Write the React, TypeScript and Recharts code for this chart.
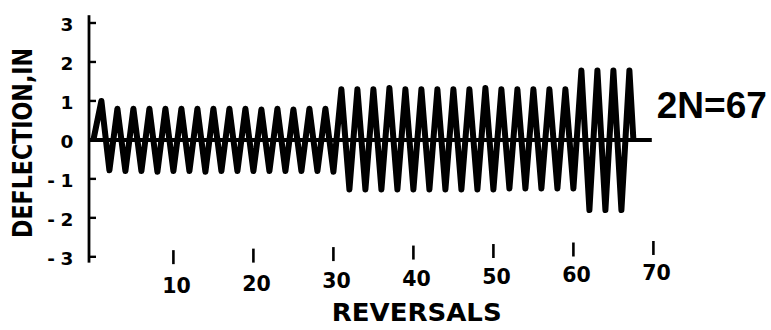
import React from "react";
import { LineChart, Line, XAxis, YAxis, ReferenceLine } from "recharts";

// Deflection (in) at each load reversal, read peak by peak.
// Reversals 1-30: ~0.8 in cycles
const stage1 = [
  1.0, -0.78, 0.8, -0.8, 0.8, -0.8, 0.8, -0.82, 0.8, -0.8,
  0.8, -0.8, 0.8, -0.82, 0.8, -0.8, 0.8, -0.8, 0.8, -0.8,
  0.78, -0.8, 0.8, -0.8, 0.78, -0.8, 0.8, -0.8, 0.8, -0.82,
];
// Reversals 31-60: ~1.3 in cycles
const stage2 = [
  1.3, -1.27, 1.3, -1.27, 1.3, -1.27, 1.33, -1.27, 1.3, -1.27,
  1.3, -1.27, 1.3, -1.27, 1.3, -1.27, 1.3, -1.27, 1.33, -1.27,
  1.3, -1.25, 1.3, -1.25, 1.3, -1.25, 1.3, -1.25, 1.3, -1.25,
];
// Reversals 61-67: ~1.8 in cycles up to failure
const stage3 = [1.78, -1.8, 1.78, -1.8, 1.78, -1.8, 1.78];

const reversalTicks = [10, 20, 30, 40, 50, 60, 70];
const deflectionTicks = [-3, -2, -1, 0, 1, 2, 3];
const failureReversal = 67;
const failureLabel = "2N=67";
const zeroLineEnd = 69.8;

const deflection = [...stage1, ...stage2, ...stage3];
const series = [
  { rev: 0, d: 0 },
  ...deflection.map((d, i) => ({ rev: i + 1, d })),
  { rev: failureReversal + 0.5, d: 0 },
];

const INK = "#000";
const SANS = "DejaVu Sans, sans-serif";

// inward tick marks with the digit centred and the minus hanging left
const YTick = (props: any) => {
  const { x, y, payload } = props;
  const v = payload.value as number;
  return (
    <g>
      <line x1={x} x2={x + 7} y1={y} y2={y} stroke={INK} strokeWidth={2.4} />
      <text x={x - 22} y={y + 2} textAnchor="middle" dominantBaseline="central"
        fontFamily={SANS} fontWeight="bold" fontSize={18.5} fill={INK}>
        {Math.abs(v)}
      </text>
      {v < 0 && (
        <text x={x - 38} y={y + 2} textAnchor="middle" dominantBaseline="central"
          fontFamily={SANS} fontWeight="bold" fontSize={18.5} fill={INK}>
          -
        </text>
      )}
    </g>
  );
};

// floating tick marks above hand-lettered labels that drift upward to the right
const XTick = (props: any) => {
  const { x, y, payload } = props;
  const v = payload.value as number;
  const markMid = y - 5.5 - (v - 10) * 0.153;
  const labelMid = y + 23 - (v - 10) * 0.21;
  return (
    <g>
      <line x1={x} x2={x} y1={markMid - 7} y2={markMid + 7} stroke={INK} strokeWidth={2.6} />
      <text x={x + 3} y={labelMid} textAnchor="middle" dominantBaseline="central"
        fontFamily={SANS} fontWeight="bold" fontSize={20.5} fill={INK}>
        {v}
      </text>
    </g>
  );
};

export default function App() {
  return (
    <div style={{ position: "absolute", left: 0, top: 0, background: "#fff" }}>
      <LineChart
        width={771}
        height={330}
        data={series}
        margin={{ top: 15.2, right: 37.6, bottom: 7.35, left: 0 }}
      >
        <XAxis
          dataKey="rev"
          type="number"
          domain={[-0.55, 80]}
          ticks={reversalTicks}
          axisLine={false}
          tickLine={false}
          tickSize={0}
          tickMargin={0}
          height={60}
          tick={<XTick />}
          label={{
            content: (p: any) => (
              <text
                x={p.viewBox.x + 327.7}
                y={p.viewBox.y + 50}
                textAnchor="middle"
                dominantBaseline="central"
                fontFamily={SANS}
                fontWeight="bold"
                fontSize={25}
                textLength={170}
                lengthAdjust="spacingAndGlyphs"
                fill={INK}
              >
                REVERSALS
              </text>
            ),
          }}
        />
        <YAxis
          type="number"
          domain={[-3.15, 3.2]}
          ticks={deflectionTicks}
          width={89}
          axisLine={{ stroke: INK, strokeWidth: 2.8 }}
          tickLine={false}
          tickSize={0}
          tickMargin={0}
          tick={<YTick />}
          label={{
            content: (p: any) => {
              const cx = p.viewBox.x + 23;
              const cy = p.viewBox.y + p.viewBox.height / 2 + 4;
              return (
                <text
                  x={cx}
                  y={cy}
                  transform={`rotate(-90, ${cx}, ${cy})`}
                  textAnchor="middle"
                  dominantBaseline="central"
                  fontFamily={SANS}
                  fontWeight="bold"
                  fontSize={27}
                  textLength={190}
                  lengthAdjust="spacingAndGlyphs"
                  fill={INK}
                >
                  DEFLECTION,IN
                </text>
              );
            },
          }}
        />
        <ReferenceLine
          segment={[
            { x: -0.55, y: 0 },
            { x: zeroLineEnd, y: 0 },
          ]}
          stroke={INK}
          strokeWidth={4}
          label={{
            content: (p: any) => (
              <text
                x={p.viewBox.x + p.viewBox.width + 5}
                y={p.viewBox.y - 34}
                textAnchor="start"
                dominantBaseline="central"
                fontFamily="Liberation Sans, Arial, sans-serif"
                fontWeight="bold"
                fontSize={37}
                fill={INK}
              >
                {failureLabel}
              </text>
            ),
          }}
        />
        <Line
          dataKey="d"
          type="linear"
          stroke={INK}
          strokeWidth={6}
          strokeLinejoin="round"
          dot={false}
          activeDot={false}
          isAnimationActive={false}
        />
      </LineChart>
    </div>
  );
}
